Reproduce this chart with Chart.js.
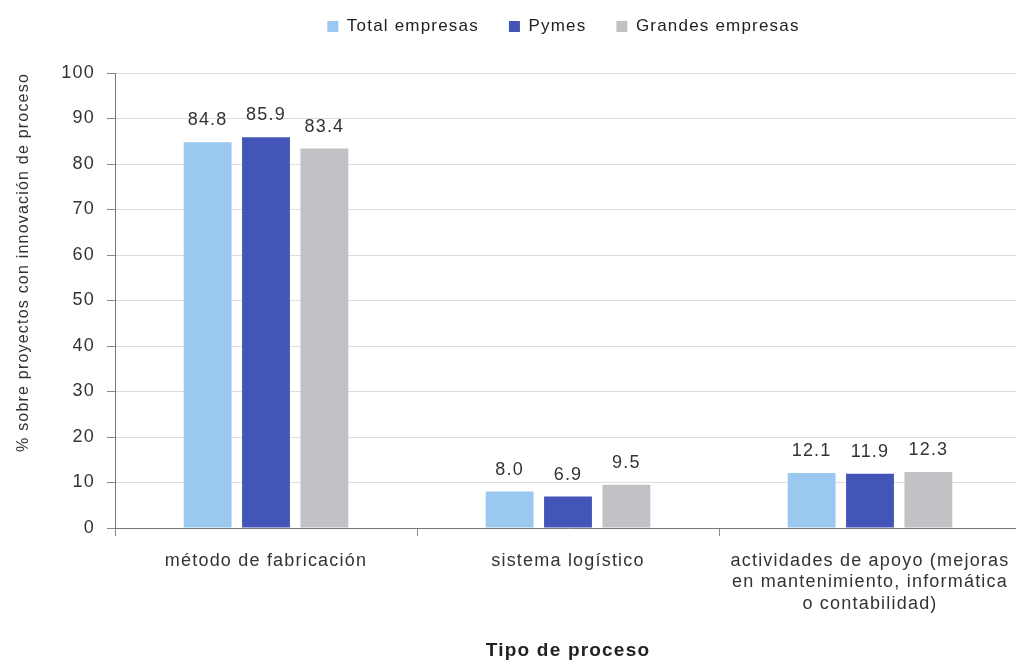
<!DOCTYPE html>
<html><head><meta charset="utf-8">
<script src="https://cdn.jsdelivr.net/npm/chart.js@4/dist/chart.umd.min.js"></script>
<style>html,body{margin:0;padding:0;background:#fff;overflow:hidden;width:1016px;height:666px}
#wrap{position:absolute;left:0;top:0;width:1032px;height:666px}</style>
</head><body><div id="wrap"><canvas id="c" width="1032" height="666"></canvas></div>
<script>
const categories = ["método de fabricación", "sistema logístico", ["actividades de apoyo (mejoras", "en mantenimiento, informática", "o contabilidad)"]];
const totalEmpresas = [84.8, 8.0, 12.1];
const pymes = [85.9, 6.9, 11.9];
const grandesEmpresas = [83.4, 9.5, 12.3];
const seriesNames = ["Total empresas", "Pymes", "Grandes empresas"];
const yTicks = [0,10,20,30,40,50,60,70,80,90,100];

const FONT = "'Liberation Sans', Arial, sans-serif";
const SPACING = '1.2px';

const layoutPlugin = {
  id: 'layoutFix',
  afterInit(chart) {
    const lg = chart.legend;
    if (lg) {
      const orig = lg.fit.bind(lg);
      lg.fit = function () { orig(); this.height = 73; };
    }
  },
  beforeUpdate(chart) { chart.ctx.letterSpacing = SPACING; },
  beforeLayout(chart) { chart.ctx.letterSpacing = SPACING; },
  afterLayout(chart) {
    const lg = chart.legend;
    if (lg) { lg.left += 106; lg.top -= 12; }
  },
  beforeDraw(chart) { chart.ctx.letterSpacing = SPACING; }
};

const labelPlugin = {
  id: 'vals',
  afterDatasetsDraw(chart) {
    const ctx = chart.ctx;
    ctx.save();
    ctx.letterSpacing = SPACING;
    ctx.font = "18px " + FONT;
    ctx.fillStyle = "#333";
    ctx.textAlign = "center";
    ctx.textBaseline = "alphabetic";
    chart.data.datasets.forEach((ds, i) => {
      chart.getDatasetMeta(i).data.forEach((bar, j) => {
        ctx.fillText(ds.data[j].toFixed(1), bar.x, bar.y - 17);
      });
    });
    ctx.restore();
  }
};

new Chart(document.getElementById('c'), {
  type: 'bar',
  data: {
    labels: categories,
    datasets: [
      {label: seriesNames[0], data: totalEmpresas, backgroundColor: '#9bc8ee'},
      {label: seriesNames[1], data: pymes, backgroundColor: '#4356b8'},
      {label: seriesNames[2], data: grandesEmpresas, backgroundColor: '#c2c1c5'}
    ]
  },
  options: {
    responsive: false,
    animation: false,
    datasets: {bar: {categoryPercentage: 0.58, barPercentage: 0.82}},
    layout: {padding: {left: 0, right: 11, top: 0, bottom: 0}},
    plugins: {
      legend: {
        position: 'top',
        labels: {boxWidth: 11, boxHeight: 11, padding: 30, color: '#222', font: {size: 17, family: FONT}},
      },
      tooltip: {enabled: false}
    },
    scales: {
      y: {
        min: 0, max: 100,
        afterBuildTicks(axis) { axis.ticks = yTicks.map(v => ({value: v})); },
        afterFit(scale) { scale.width = 115; },
        ticks: {color: '#333', font: {size: 18, family: FONT}, padding: 12},
        grid: {color: '#dcdcdc', tickLength: 8, tickColor: '#888'},
        border: {color: '#777'},
        title: {display: true, align: 'end', text: '% sobre proyectos con innovación de proceso', color: '#333', font: {size: 16, family: FONT}, padding: {top: 14, bottom: 0}}
      },
      x: {
        afterFit(scale) { scale.height = 138; },
        ticks: {color: '#333', font: {size: 18, family: FONT}, padding: 14, maxRotation: 0},
        grid: {drawOnChartArea: false, tickLength: 8, tickColor: '#888', offset: true},
        border: {color: '#777'},
        title: {display: true, text: 'Tipo de proceso', color: '#222', font: {size: 19, weight: 'bold', family: FONT}, padding: {top: 0, bottom: 4}}
      }
    }
  },
  plugins: [layoutPlugin, labelPlugin]
});
</script></body></html>
